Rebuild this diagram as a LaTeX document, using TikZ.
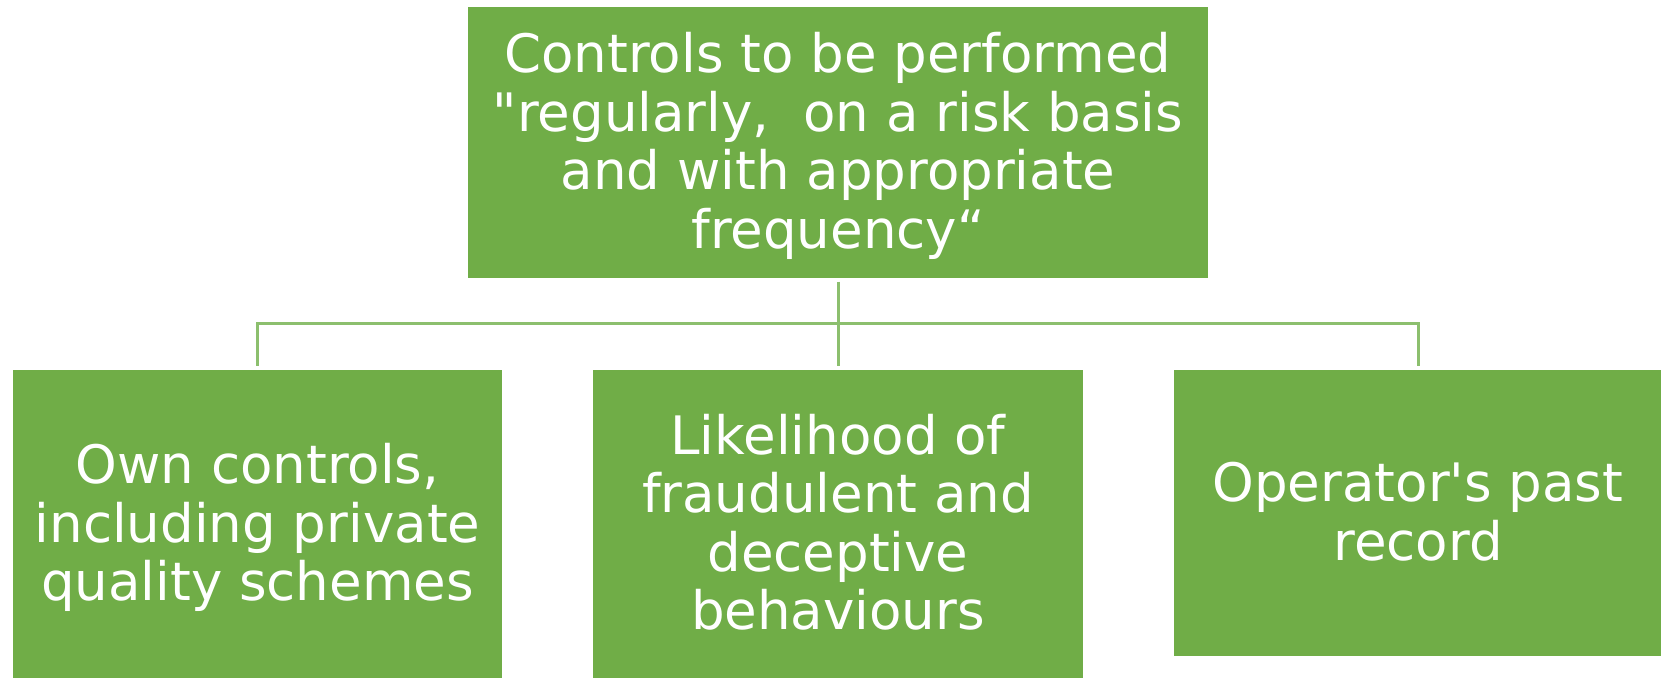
\documentclass[tikz,border=0pt]{standalone}
\usepackage{fontspec}
\setmainfont{DejaVu Sans}[Ligatures=TeXOff]
\definecolor{boxgreen}{HTML}{70AD47}
\definecolor{linegreen}{HTML}{8CBF6E}
\newcommand\topstrut{\rule{0pt}{49pt}}
\newcommand\botstrut{\rule[-13pt]{0pt}{13pt}}
\begin{document}
\begin{tikzpicture}[x=1pt,y=-1pt,
  box/.style={fill=boxgreen, draw=white, line width=1.2pt, text=white,
    align=center, inner sep=0pt,
    font=\fontsize{53}{58.5}\selectfont},
  conn/.style={draw=linegreen, line width=3pt}]
\useasboundingbox (0,0) rectangle (1661,678);
\node[box, minimum width=742pt, minimum height=273pt] (top) at (838,142.5)
  {\topstrut Controls to be performed\\"regularly,~~on a risk basis\\and with appropriate\\frequency“\botstrut};
\node[box, minimum width=491pt, minimum height=310pt] (c1) at (257.5,524)
  {\topstrut Own controls,\\including private\\quality schemes\botstrut};
\node[box, minimum width=491pt, minimum height=310pt] (c2) at (838,524)
  {\topstrut Likelihood of\\fraudulent and\\deceptive\\behaviours\botstrut};
\node[box, minimum width=490pt, minimum height=288pt] (c3) at (1418,513)
  {\topstrut Operator's past\\record\botstrut};
\coordinate (bus) at (838,323);
\draw[conn, shorten <=2pt] (top.south) -- (bus);
\draw[conn, shorten >=2pt] (bus) -| (c1.north);
\draw[conn, shorten >=2pt] (bus) -- (c2.north);
\draw[conn, shorten >=2pt] (bus) -| (c3.north);
\end{tikzpicture}
\end{document}
